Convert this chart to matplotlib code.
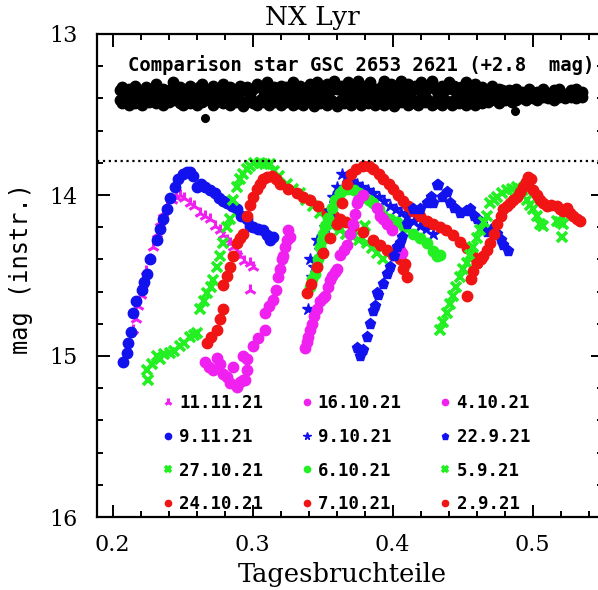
import matplotlib
matplotlib.use("Agg")
import matplotlib.pyplot as plt
from matplotlib.ticker import MultipleLocator

# comparison star (shifted +2.8 mag), two rows of readings to fill the band
comp_x = [0.205, 0.207, 0.209, 0.212, 0.214, 0.216, 0.219, 0.221, 0.224, 0.226,
          0.228, 0.231, 0.233, 0.236, 0.238, 0.240, 0.243, 0.245, 0.248, 0.250,
          0.252, 0.255, 0.257, 0.260, 0.262, 0.264, 0.267, 0.269, 0.272, 0.274,
          0.276, 0.279, 0.281, 0.284, 0.286, 0.288, 0.291, 0.293, 0.296, 0.298,
          0.300, 0.303, 0.305, 0.308, 0.310, 0.312, 0.315, 0.317, 0.320, 0.322,
          0.324, 0.327, 0.329, 0.332, 0.334, 0.336, 0.339, 0.341, 0.344, 0.346,
          0.348, 0.351, 0.353, 0.356, 0.358, 0.360, 0.363, 0.365, 0.368, 0.370,
          0.372, 0.375, 0.377, 0.380, 0.382, 0.384, 0.387, 0.389, 0.392, 0.394,
          0.396, 0.399, 0.401, 0.404, 0.406, 0.408, 0.411, 0.413, 0.416, 0.418,
          0.420, 0.423, 0.425, 0.428, 0.430, 0.432, 0.435, 0.437, 0.440, 0.442,
          0.444, 0.447, 0.449, 0.452, 0.454, 0.456, 0.459, 0.461, 0.464, 0.466,
          0.468, 0.471, 0.473, 0.476, 0.478, 0.480, 0.483, 0.485, 0.488, 0.490,
          0.492, 0.495, 0.497, 0.500, 0.503, 0.507, 0.511, 0.515, 0.519, 0.523,
          0.527, 0.531, 0.535]
comp_y1 = [13.35, 13.33, 13.37, 13.34, 13.38, 13.32, 13.36, 13.39, 13.33, 13.35,
           13.37, 13.31, 13.36, 13.34, 13.38, 13.35, 13.30, 13.37, 13.33, 13.36,
           13.38, 13.32, 13.35, 13.37, 13.33, 13.31, 13.36, 13.38, 13.32, 13.37,
           13.34, 13.31, 13.37, 13.33, 13.36, 13.39, 13.32, 13.35, 13.33, 13.37,
           13.34, 13.31, 13.33, 13.37, 13.30, 13.35, 13.33, 13.38, 13.32, 13.36,
           13.33, 13.37, 13.30, 13.35, 13.32, 13.34, 13.38, 13.31, 13.36, 13.30,
           13.33, 13.37, 13.31, 13.35, 13.29, 13.34, 13.32, 13.37, 13.30, 13.33,
           13.36, 13.29, 13.34, 13.32, 13.36, 13.30, 13.34, 13.37, 13.32, 13.29,
           13.34, 13.31, 13.36, 13.32, 13.29, 13.35, 13.31, 13.36, 13.32, 13.34,
           13.30, 13.36, 13.32, 13.29, 13.34, 13.37, 13.32, 13.35, 13.30, 13.34,
           13.32, 13.36, 13.33, 13.30, 13.37, 13.34, 13.31, 13.35, 13.33, 13.37,
           13.35, 13.32, 13.37, 13.34, 13.35, 13.38, 13.35, 13.37, 13.34, 13.38,
           13.36, 13.38, 13.34, 13.37, 13.36, 13.34, 13.37, 13.35, 13.34, 13.37,
           13.35, 13.34, 13.36]
comp_y2 = [13.41, 13.43, 13.40, 13.44, 13.41, 13.43, 13.39, 13.44, 13.41, 13.42,
           13.40, 13.43, 13.41, 13.44, 13.40, 13.42, 13.41, 13.39, 13.43, 13.44,
           13.41, 13.43, 13.40, 13.44, 13.41, 13.42, 13.39, 13.41, 13.44, 13.42,
           13.40, 13.43, 13.41, 13.44, 13.39, 13.42, 13.41, 13.45, 13.42, 13.40,
           13.43, 13.44, 13.41, 13.42, 13.39, 13.44, 13.42, 13.41, 13.44, 13.40,
           13.42, 13.41, 13.44, 13.43, 13.40, 13.44, 13.41, 13.42, 13.45, 13.41,
           13.43, 13.40, 13.44, 13.41, 13.42, 13.45, 13.41, 13.43, 13.40, 13.44,
           13.42, 13.41, 13.44, 13.40, 13.43, 13.41, 13.44, 13.42, 13.39, 13.44,
           13.41, 13.43, 13.45, 13.41, 13.42, 13.40, 13.44, 13.41, 13.43, 13.44,
           13.40, 13.42, 13.41, 13.44, 13.43, 13.40, 13.44, 13.41, 13.42, 13.44,
           13.41, 13.43, 13.40, 13.44, 13.41, 13.42, 13.44, 13.40, 13.43, 13.41,
           13.42, 13.40, 13.41, 13.43, 13.40, 13.41, 13.40, 13.42, 13.41, 13.39,
           13.40, 13.41, 13.39, 13.40, 13.41, 13.39, 13.40, 13.41, 13.39, 13.40,
           13.39, 13.40, 13.39]
comp_out_x = [0.266, 0.487]
comp_out_y = [13.52, 13.48]

# NX Lyr nights (Tagesbruchteile, instrumental mag)
m_11_11_x = [0.2148, 0.2165, 0.2183, 0.2200, 0.2219, 0.2240, 0.2267, 0.2290, 0.2314, 0.2340,
             0.2362, 0.2390, 0.2421, 0.2450, 0.2481, 0.2510, 0.2552, 0.2580, 0.2624, 0.2660,
             0.2695, 0.2730, 0.2767, 0.2790, 0.2814, 0.2840, 0.2862, 0.2885, 0.2910, 0.2940,
             0.2981, 0.3005, 0.2981]
m_11_11_y = [14.84, 14.77, 14.69, 14.62, 14.55, 14.47, 14.40, 14.32, 14.24, 14.17,
             14.11, 14.06, 14.03, 14.01, 14.00, 14.02, 14.05, 14.07, 14.11, 14.13,
             14.15, 14.19, 14.22, 14.25, 14.28, 14.30, 14.32, 14.35, 14.38, 14.41,
             14.42, 14.45, 14.59]

b_9_11_x = [0.2076, 0.2100, 0.2111, 0.2130, 0.2148, 0.2170, 0.2207, 0.2225, 0.2243, 0.2270,
            0.2314, 0.2340, 0.2360, 0.2386, 0.2410, 0.2445, 0.2470, 0.2505, 0.2530, 0.2552,
            0.2575, 0.2600, 0.2630, 0.2660, 0.2695, 0.2730, 0.2760, 0.2790, 0.2814, 0.2850,
            0.2886, 0.2920, 0.2957, 0.2980, 0.3005, 0.3040, 0.3076, 0.3100, 0.3124, 0.3147]
b_9_11_y = [15.04, 14.98, 14.92, 14.85, 14.73, 14.66, 14.59, 14.54, 14.49, 14.40,
            14.28, 14.21, 14.15, 14.09, 14.02, 13.95, 13.90, 13.87, 13.86, 13.86,
            13.88, 13.95, 13.93, 13.95, 13.97, 13.99, 14.02, 14.04, 14.05, 14.07,
            14.09, 14.13, 14.15, 14.19, 14.20, 14.21, 14.22, 14.25, 14.28, 14.26]

g_27_10_x = [0.2243, 0.2255, 0.2280, 0.2314, 0.2340, 0.2370, 0.2410, 0.2440, 0.2480, 0.2510,
             0.2552, 0.2580, 0.2600, 0.2624, 0.2650, 0.2671, 0.2700, 0.2719, 0.2743, 0.2767,
             0.2790, 0.2814, 0.2838, 0.2860, 0.2885, 0.2910, 0.2933, 0.2960, 0.2981, 0.3010,
             0.3052, 0.3090, 0.3124, 0.3150, 0.3190, 0.3243, 0.3290, 0.3338, 0.3380, 0.3433,
             0.3480, 0.3529, 0.3570, 0.3624, 0.3670, 0.3719, 0.3760, 0.3814, 0.3850, 0.3886,
             0.3933, 0.3802]
g_27_10_y = [15.09, 15.15, 15.05, 15.00, 15.02, 14.99, 14.98, 14.97, 14.94, 14.92,
             14.88, 14.87, 14.86, 14.71, 14.66, 14.61, 14.57, 14.53, 14.45, 14.38,
             14.30, 14.20, 14.15, 14.03, 13.95, 13.90, 13.87, 13.84, 13.82, 13.80,
             13.80, 13.81, 13.81, 13.85, 13.88, 13.93, 13.96, 13.99, 14.03, 14.07,
             14.11, 14.15, 14.19, 14.22, 14.24, 14.26, 14.28, 14.30, 14.33, 14.36,
             14.40, 14.19]

r_24_10_x = [0.2671, 0.2700, 0.2743, 0.2765, 0.2790, 0.2790, 0.2815, 0.2838, 0.2860, 0.2886,
             0.2910, 0.2933, 0.2957, 0.2980, 0.3005, 0.3030, 0.3052, 0.3075, 0.3100, 0.3136,
             0.3165, 0.3195, 0.3250, 0.3314, 0.3360, 0.3409, 0.3470, 0.3529, 0.3580, 0.3624,
             0.3670, 0.3719, 0.3790, 0.3862, 0.3910, 0.3957, 0.4000, 0.4052, 0.4076, 0.4100,
             0.4090]
r_24_10_y = [14.92, 14.88, 14.84, 14.77, 14.71, 14.56, 14.50, 14.45, 14.38, 14.30,
             14.27, 14.24, 14.13, 14.06, 14.01, 13.96, 13.93, 13.90, 13.89, 13.88,
             13.90, 13.93, 13.96, 13.99, 14.01, 14.03, 14.07, 14.11, 14.13, 14.15,
             14.17, 14.19, 14.23, 14.28, 14.31, 14.34, 14.37, 14.40, 14.46, 14.51,
             14.43]

m_16_10_x = [0.2659, 0.2690, 0.2719, 0.2743, 0.2767, 0.2790, 0.2815, 0.2838, 0.2862, 0.2886,
             0.2910, 0.2933, 0.2945, 0.2957, 0.2933, 0.2960, 0.3004, 0.3040, 0.3088, 0.3088,
             0.3120, 0.3147, 0.3170, 0.3182, 0.3195, 0.3207, 0.3219, 0.3230, 0.3243, 0.3255,
             0.3267]
m_16_10_y = [15.035, 15.07, 15.09, 15.01, 15.05, 15.11, 15.13, 15.17, 15.07, 15.19,
             15.16, 15.15, 15.15, 15.09, 15.00, 15.02, 14.94, 14.89, 14.84, 14.73,
             14.69, 14.65, 14.59, 14.51, 14.46, 14.40, 14.38, 14.32, 14.28, 14.22,
             14.26]

b_9_10_x = [0.3397, 0.3410, 0.3421, 0.3440, 0.3457, 0.3481, 0.3520, 0.3550, 0.3576, 0.3600,
            0.3636, 0.3670, 0.3700, 0.3743, 0.3780, 0.3820, 0.3862, 0.3900, 0.3940, 0.3980,
            0.4020, 0.4060, 0.4100, 0.4150, 0.4195, 0.4240, 0.4290]
b_9_10_y = [14.71, 14.40, 14.51, 14.45, 14.28, 14.34, 14.20, 14.10, 14.01, 13.95,
            13.87, 13.89, 13.91, 13.93, 13.95, 13.97, 13.99, 14.01, 14.04, 14.07,
            14.09, 14.11, 14.13, 14.16, 14.19, 14.21, 14.24]

g_6_10_x = [0.3409, 0.3425, 0.3445, 0.3457, 0.3470, 0.3481, 0.3495, 0.3505, 0.3520, 0.3540,
            0.3564, 0.3590, 0.3624, 0.3648, 0.3680, 0.3720, 0.3760, 0.3790, 0.3830, 0.3862,
            0.3900, 0.3933, 0.3980, 0.4029, 0.4080, 0.4148, 0.4195, 0.4243, 0.4290, 0.4314,
            0.4338]
g_6_10_y = [14.57, 14.52, 14.49, 14.44, 14.40, 14.32, 14.28, 14.24, 14.19, 14.14,
            14.08, 14.03, 13.99, 13.97, 13.96, 13.97, 13.99, 14.01, 14.03, 14.05,
            14.09, 14.13, 14.15, 14.17, 14.20, 14.24, 14.27, 14.30, 14.35, 14.38,
            14.37]

r_7_10_x = [0.3386, 0.3420, 0.3460, 0.3500, 0.3550, 0.3600, 0.3640, 0.3671, 0.3700, 0.3740,
            0.3790, 0.3830, 0.3862, 0.3900, 0.3933, 0.3970, 0.4005, 0.4040, 0.4076, 0.4110,
            0.4148, 0.4195, 0.4243, 0.4290, 0.4338, 0.4380, 0.4430, 0.4480, 0.4529, 0.4570,
            0.4600]
r_7_10_y = [14.61, 14.55, 14.45, 14.36, 14.27, 14.18, 14.05, 13.93, 13.87, 13.84,
            13.82, 13.82, 13.84, 13.87, 13.90, 13.93, 13.96, 14.00, 14.04, 14.07,
            14.10, 14.13, 14.16, 14.18, 14.20, 14.22, 14.25, 14.29, 14.33, 14.38,
            14.42]

m_4_10_x = [0.3374, 0.3385, 0.3398, 0.3410, 0.3421, 0.3440, 0.3457, 0.3481, 0.3500, 0.3517,
            0.3535, 0.3552, 0.3570, 0.3588, 0.3600, 0.3624, 0.3650, 0.3671, 0.3695, 0.3715,
            0.3731, 0.3743, 0.3755, 0.3790, 0.3886, 0.3910, 0.3930, 0.3957, 0.3993, 0.4052,
            0.4064]
m_4_10_y = [14.95, 14.91, 14.88, 14.84, 14.80, 14.75, 14.71, 14.66, 14.64, 14.63,
            14.57, 14.53, 14.50, 14.48, 14.46, 14.37, 14.34, 14.31, 14.24, 14.18,
            14.12, 14.05, 14.03, 14.00, 14.08, 14.13, 14.15, 14.18, 14.22, 14.34,
            14.36]

b_22_9_x = [0.3743, 0.3767, 0.3790, 0.3815, 0.3838, 0.3860, 0.3874, 0.3886, 0.3898, 0.3930,
            0.3957, 0.3981, 0.4010, 0.4029, 0.4052, 0.4064, 0.4100, 0.4148, 0.4195, 0.4243,
            0.4270, 0.4290, 0.4314, 0.4326, 0.4350, 0.4386, 0.4410, 0.4440, 0.4481, 0.4520,
            0.4552, 0.4580, 0.4600, 0.4640, 0.4671, 0.4710, 0.4743, 0.4770, 0.4790, 0.4826]
b_22_9_y = [14.95, 15.00, 14.96, 14.88, 14.80, 14.72, 14.69, 14.61, 14.62, 14.55,
            14.49, 14.45, 14.38, 14.32, 14.30, 14.26, 14.18, 14.09, 14.09, 14.05,
            14.01, 14.05, 13.94, 13.94, 14.01, 13.98, 14.05, 14.08, 14.11, 14.10,
            14.09, 14.13, 14.15, 14.18, 14.23, 14.21, 14.24, 14.28, 14.31, 14.35]

g_5_9_x = [0.4338, 0.4360, 0.4386, 0.4410, 0.4433, 0.4455, 0.4481, 0.4505, 0.4529, 0.4550,
           0.4576, 0.4600, 0.4624, 0.4650, 0.4671, 0.4695, 0.4720, 0.4743, 0.4780, 0.4814,
           0.4850, 0.4886, 0.4910, 0.4933, 0.4957, 0.4980, 0.5005, 0.5030, 0.5052, 0.5076,
           0.5171, 0.5195, 0.5219, 0.5207]
g_5_9_y = [14.84, 14.79, 14.73, 14.68, 14.63, 14.57, 14.51, 14.46, 14.42, 14.37,
           14.32, 14.27, 14.22, 14.17, 14.13, 14.05, 14.03, 14.01, 13.99, 13.97,
           13.96, 13.95, 13.96, 13.97, 14.03, 14.06, 14.09, 14.13, 14.18, 14.19,
           14.16, 14.17, 14.18, 14.26]

r_2_9_x = [0.4529, 0.4560, 0.4576, 0.4600, 0.4630, 0.4648, 0.4670, 0.4695, 0.4720, 0.4743,
           0.4770, 0.4790, 0.4815, 0.4838, 0.4860, 0.4886, 0.4910, 0.4933, 0.4955, 0.4969,
           0.4985, 0.5005, 0.5030, 0.5052, 0.5075, 0.5100, 0.5130, 0.5171, 0.5195, 0.5219,
           0.5245, 0.5267, 0.5290, 0.5314, 0.5338]
r_2_9_y = [14.63, 14.52, 14.47, 14.42, 14.40, 14.38, 14.34, 14.30, 14.24, 14.18,
           14.13, 14.09, 14.07, 14.05, 14.03, 14.01, 13.98, 13.95, 13.92, 13.89,
           13.90, 13.97, 14.00, 14.03, 14.05, 14.07, 14.06, 14.07, 14.09, 14.10,
           14.08, 14.11, 14.13, 14.15, 14.16]

MAG = '#f020f0'
BLU = '#1212ee'
GRN = '#22f022'
RED = '#f01414'

# order matches the 3-column legend (filled column by column)
nights = [
    ('11.11.21', m_11_11_x, m_11_11_y, MAG, '2', 9, 2.2),
    ('9.11.21', b_9_11_x, b_9_11_y, BLU, 'o', 7.5, 1.0),
    ('27.10.21', g_27_10_x, g_27_10_y, GRN, 'x', 6.5, 2.6),
    ('24.10.21', r_24_10_x, r_24_10_y, RED, 'o', 7.5, 1.0),
    ('16.10.21', m_16_10_x, m_16_10_y, MAG, 'o', 7.5, 1.0),
    ('9.10.21', b_9_10_x, b_9_10_y, BLU, '*', 9, 1.0),
    ('6.10.21', g_6_10_x, g_6_10_y, GRN, 'o', 7.5, 1.0),
    ('7.10.21', r_7_10_x, r_7_10_y, RED, 'o', 7.5, 1.0),
    ('4.10.21', m_4_10_x, m_4_10_y, MAG, 'o', 7.5, 1.0),
    ('22.9.21', b_22_9_x, b_22_9_y, BLU, 'p', 8, 1.0),
    ('5.9.21', g_5_9_x, g_5_9_y, GRN, 'x', 6.5, 2.6),
    ('2.9.21', r_2_9_x, r_2_9_y, RED, 'o', 7.5, 1.0),
]

fig = plt.figure(figsize=(5.98, 5.90), dpi=100)
ax = fig.add_axes([97 / 598, 1 - 517 / 590, (603 - 97) / 598, (517 - 34) / 590])

ax.plot(comp_x, comp_y1, 'o', color='k', ms=7.5, mec='k')
ax.plot(comp_x, comp_y2, 'o', color='k', ms=7.5, mec='k')
ax.plot(comp_out_x, comp_out_y, 'o', color='k', ms=5.5)

for label, xs, ys, col, mk, ms, mew in nights:
    ax.plot(xs, ys, linestyle='none', marker=mk, color=col, ms=ms,
            mew=mew, mec=col, label=label)

ax.axhline(13.79, color='k', ls=':', lw=1.6)

ax.text(0.211, 13.19, 'Comparison star GSC 2653 2621 (+2.8  mag)',
        family='DejaVu Sans Mono', fontweight='bold', fontsize=13.6,
        va='center', ha='left')

ax.set_xlim(0.1888, 0.5502)
ax.set_ylim(16, 13)
ax.xaxis.set_major_locator(MultipleLocator(0.1))
ax.xaxis.set_minor_locator(MultipleLocator(0.02))
ax.yaxis.set_major_locator(MultipleLocator(1))
ax.yaxis.set_minor_locator(MultipleLocator(0.2))
ax.tick_params(which='both', direction='in', top=True, right=True, width=1.4)
ax.tick_params(which='major', length=9, labelsize=16)
ax.tick_params(axis='y', which='major', pad=14)
ax.tick_params(axis='x', which='major', pad=12)
ax.tick_params(which='minor', length=4.5)
for lab in ax.get_xticklabels() + ax.get_yticklabels():
    lab.set_family('DejaVu Serif')
for sp in ax.spines.values():
    sp.set_linewidth(1.6)

fig.text(312 / 598, 1 - 17 / 590, 'NX Lyr', family='DejaVu Serif', fontsize=19,
         ha='center', va='center')
ax.set_xlabel('Tagesbruchteile', family='DejaVu Serif', fontsize=18.5)
ax.xaxis.set_label_coords((342 - 97) / 506, -(562 - 517) / 483)
ax.set_ylabel('mag (instr.)', family='DejaVu Sans Mono', fontsize=17)
ax.yaxis.set_label_coords(-(97 - 33) / 506, (517 - 268) / 483)

leg = ax.legend(ncol=3, loc='lower left', bbox_to_anchor=(0.128, 0.008),
                frameon=False, markerscale=0.6, handlelength=0.7,
                handletextpad=0.3, columnspacing=2.15, labelspacing=0.9,
                borderpad=0.0, borderaxespad=0.0,
                prop={'family': 'DejaVu Sans Mono', 'weight': 'bold', 'size': 12.5})

fig.savefig('out.png', dpi=100)
